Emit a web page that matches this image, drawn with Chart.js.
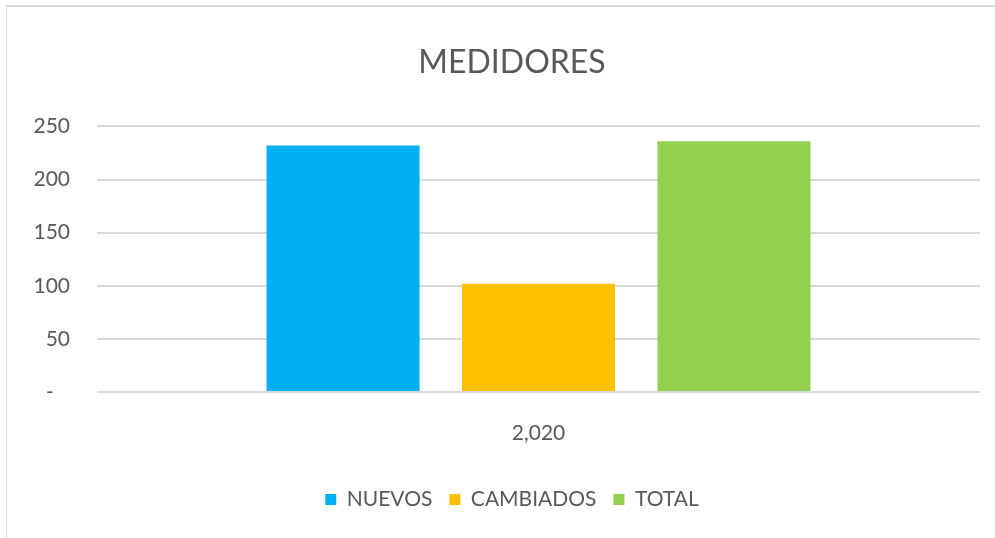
<!DOCTYPE html>
<html>
<head>
<meta charset="utf-8">
<script src="https://cdn.jsdelivr.net/npm/chart.js@4.4.1/dist/chart.umd.min.js"></script>
<style>
  html, body { margin: 0; padding: 0; background: #ffffff; }
  #wrap { position: relative; width: 995px; height: 538px; overflow: hidden; }
  #chart { position: absolute; left: 0; top: 0; }
  #frame {
    position: absolute; left: 6px; top: 5px; width: 1100px; height: 600px;
    border-top: 2px solid #d9d9d9; border-left: 1px solid #d9d9d9;
    pointer-events: none;
  }
</style>
</head>
<body>
<div id="wrap">
  <canvas id="chart" width="995" height="538"></canvas>
  <div id="frame"></div>
</div>
<script>
// Meter counts for 2020
const categories = ['2,020'];
const seriesNames = ['NUEVOS', 'CAMBIADOS', 'TOTAL'];
const nuevos = [232];
const cambiados = [102];
const total = [236];
const yTickValues = [0, 50, 100, 150, 200, 250];
const yTickLabels = ['-   ', '50', '100', '150', '200', '250'];

const seriesValues = [nuevos, cambiados, total];
const seriesColors = ['#00B0F0', '#FFC000', '#92D050'];

const FONT = 'Lato, "Open Sans", sans-serif';
const TEXT = '#595959';

// Let the y tick labels use the space left of the axis box (the left layout
// padding) so they are not clipped to the narrow scale box.
const yLabelRoom = {
  id: 'yLabelRoom',
  afterLayout(chart) { chart.scales.y.left = 0; }
};

new Chart(document.getElementById('chart'), {
  type: 'bar',
  data: {
    labels: categories,
    datasets: seriesNames.map((name, i) => ({
      label: name,
      data: seriesValues[i],
      backgroundColor: seriesColors[i],
      borderWidth: 0,
      categoryPercentage: 0.664,
      barPercentage: 0.783
    }))
  },
  options: {
    responsive: false,
    animation: false,
    layout: { padding: { left: 44, right: 15, top: 0, bottom: 18 } },
    plugins: {
      title: {
        display: true,
        text: 'MEDIDORES',
        color: TEXT,
        font: { family: FONT, size: 32, weight: 'normal' },
        padding: { top: 43, bottom: 45 }
      },
      legend: {
        position: 'bottom',
        labels: {
          color: TEXT,
          font: { family: FONT, size: 21 },
          boxWidth: 11,
          boxHeight: 11,
          padding: 17
        }
      },
      tooltip: { enabled: false }
    },
    scales: {
      x: {
        afterFit(scale) { scale.height = 80; },
        grid: { display: false, drawTicks: false },
        border: { display: false },
        ticks: { color: TEXT, font: { family: FONT, size: 21 }, padding: 29 }
      },
      y: {
        min: 0,
        max: 250,
        afterFit(scale) { scale.width = 53; },
        afterBuildTicks(scale) { scale.ticks = yTickValues.map(v => ({ value: v })); },
        grid: { color: '#d9d9d9', lineWidth: 2, drawTicks: false },
        border: { display: false },
        ticks: {
          color: TEXT,
          font: { family: FONT, size: 21 },
          padding: 27,
          callback: (value) => yTickLabels[yTickValues.indexOf(value)]
        }
      }
    }
  },
  plugins: [yLabelRoom]
});
</script>
</body>
</html>
